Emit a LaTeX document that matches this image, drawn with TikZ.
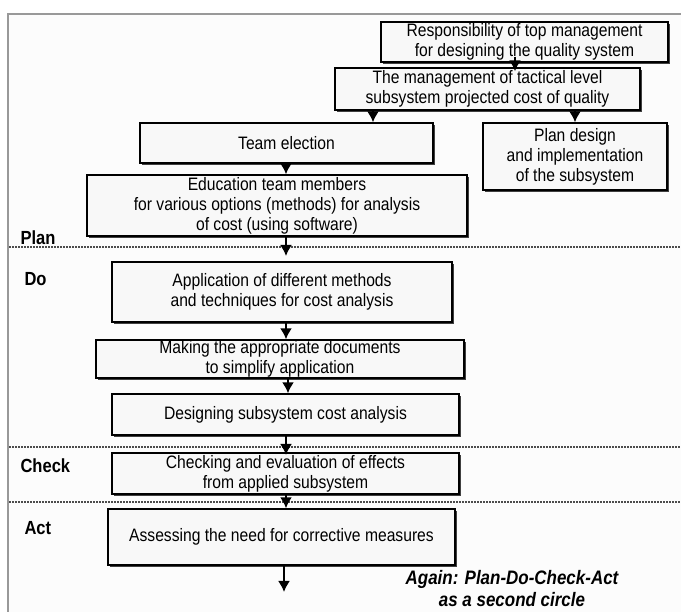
\documentclass[tikz,border=0pt]{standalone}
\usepackage{fontspec}
\setmainfont[FakeStretch=0.87]{Liberation Sans}
\usetikzlibrary{arrows.meta,shadows}
\definecolor{bg}{HTML}{FCFCFC}
\definecolor{boxfill}{HTML}{F8F8F8}
\definecolor{frame}{HTML}{999999}
\begin{document}
\begin{tikzpicture}[x=1pt,y=-1pt,
  box/.style={draw=black,line width=1.4pt,fill=boxfill,align=center,inner sep=0pt,
    font=\fontsize{18}{20}\selectfont,
    drop shadow={shadow xshift=1.8pt,shadow yshift=-1.8pt,fill=black!75,opacity=1}},
  arr/.style={line width=1.8pt,-{Latex[length=11pt,width=12pt]}},
  sep/.style={draw=black!70,line width=1.3pt,dash pattern=on 2pt off 1pt},
  phase/.style={font=\fontsize{19}{20}\selectfont\bfseries,anchor=west},
  note/.style={font=\fontsize{19.5}{22}\selectfont\bfseries\itshape,align=center}]
\useasboundingbox (0,0) rectangle (681,612);
\clip (0,0) rectangle (681,612);
\fill[white] (0,0) rectangle (681,612);
\fill[bg] (8,14) rectangle (700,630);
\draw[frame,line width=2.5pt] (8,630) -- (8,14) -- (700,14);
% boxes
\node[box,minimum width=287pt,minimum height=40pt] (b1) at (524.5,42) {Responsibility of top management\\for designing the quality system};
\node[box,minimum width=305pt,minimum height=42pt] (b2) at (487.5,89) {The management of tactical level\\subsystem projected cost of quality};
\node[box,minimum width=293pt,minimum height=40pt] (b3) at (286.5,143) {Team election};
\node[box,minimum width=184pt,minimum height=67pt] (b4) at (575,156.5) {Plan design\\and implementation\\of the subsystem};
\node[box,minimum width=380pt,minimum height=61pt] (b5) at (277,205.5) {Education team members\\for various options (methods) for analysis\\of cost (using software)};
\node[box,minimum width=340pt,minimum height=60pt] (b6) at (282,292) {Application of different methods\\and techniques for cost analysis};
\node[box,minimum width=368pt,minimum height=38pt] (b7) at (280,359) {Making the appropriate documents\\to simplify application};
\node[box,minimum width=347pt,minimum height=41pt] (b8) at (285.5,414.5) {Designing subsystem cost analysis};
\node[box,minimum width=347pt,minimum height=41pt] (b9) at (285.5,473.5) {Checking and evaluation of effects\\from applied subsystem};
\node[box,minimum width=347pt,minimum height=56pt] (b10) at (281.5,537) {Assessing the need for corrective measures};
% separators
\draw[sep] (9,247) -- (681,247);
\draw[sep] (9,447) -- (681,447);
\draw[sep] (9,502) -- (681,502);
% phase labels
\node[phase] (lplan) at (17,238) {Plan};
\node[phase] (ldo) at (21,279) {Do};
\node[phase] (lcheck) at (17,466) {Check};
\node[phase] (lact) at (21,528) {Act};
% free end
\coordinate (end) at (284,592);
% arrows
\draw[arr] ([yshift=6pt]b1.south -| 515,0) -- ([yshift=-4pt]b2.north -| 515,0);
\draw[arr] (b2.south -| 373,0) -- (b3.north -| 373,0);
\draw[arr] (b2.south -| 575,0) -- (b4.north -| 575,0);
\draw[arr] (b3.south -| 286,0) -- (b5.north -| 286,0);
\draw[arr] (b5.south -| 286,0) -- (286,256);
\draw[arr] (b6.south -| 286,0) -- (b7.north -| 286,0);
\draw[arr] (b7.south -| 288,0) -- (b8.north -| 288,0);
\draw[arr] (b8.south -| 286,0) -- (286,455);
\draw[arr] (b9.south -| 286,0) -- (b10.north -| 286,0);
\draw[arr] (b10.south -| 284,0) -- (end);
\node[note] (again) at (512,589) {Again: Plan-Do-Check-Act\\as a second circle};
\end{tikzpicture}
\end{document}
